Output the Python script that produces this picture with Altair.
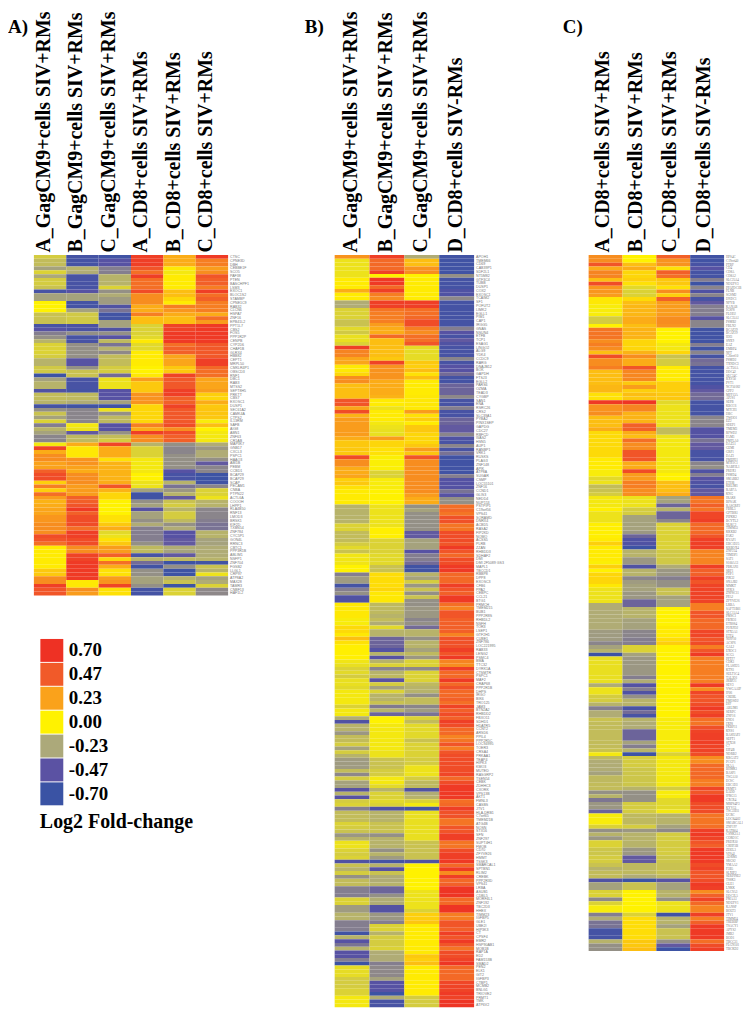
import json
import altair as alt
import pandas as pd

def expand(runs):
    out = []
    for item in runs:
        if isinstance(item, tuple):
            out += [item[0]] * item[1]
        else:
            out.append(item)
    return out

LEVELS = [0.70, 0.47, 0.23, 0.00, -0.23, -0.47, -0.70]
COLORS = ["#ee3124", "#f15a29", "#faa21b", "#fff200", "#aca97a", "#5b52a3", "#3a53a4"]

A_LABELS = ["A_GagCM9+cells SIV+RMs", "B_GagCM9+cells SIV+RMs", "C_GagCM9+cells SIV+RMs",
            "A_CD8+cells SIV+RMs", "B_CD8+cells SIV+RMs", "C_CD8+cells SIV+RMs"]
B_LABELS = ["A_GagCM9+cells SIV+RMs", "B_GagCM9+cells SIV+RMs", "C_GagCM9+cells SIV+RMs", "D_CD8+cells SIV-RMs"]
C_LABELS = ["A_CD8+cells SIV+RMs", "B_CD8+cells SIV+RMs", "C_CD8+cells SIV+RMs", "D_CD8+cells SIV-RMs"]

A_GENES = ["CTSC","CPNE3D","DBH","CEBBE1F","SCO5","PAF38","PTEN","BASCHPF1","LSM3","EXOC1","BLOC1S2","STAMBP","CPNE1C9","RAB32","CLCN6","HSPA7","ZNF16","EPB41L2","PPT1L7","CBS2","FOS5","PPP1R2P","CENPB","CYP2D6","CHAF1B","GLRX4","HBB82","CEPT1","MRPL50","CMKLR4P1","OBSCD3","RNF1","DBC1","RAB3","MTSS2","SEPT8H5","PRKTT","CBS7","EXOSC1","DUSP1","SEC61A2","CAMK4A","CTPS2","IL13RM","SAFB","AIG8","ABN1","ZNF63","CR1AB","MAP3K7","GNB17","CXCL3","PSPC1","HAAO3","ABI1B","PEBM","CCBD1","BCAP29","BCAP29","SCAP","PECAM1","CNBA","PTPN22","ACTL6A","COOOH","LHPP1","RLA4B50","RNF13","LMOD3","BRSK1","KIF2D","TXBN54","ZNF784","CYC5P1","GON4L","RRNC3","CBTC1","PPP3R1B","ABLIM1","NSFP1","ZNF704","FGSB2","LLGL1","CRP97","ATP8A2","MAX28","TAMR3","CNBF13","HAF1L2"]
B_GENES = ["APOH1","TMEM66","CD69","CAB39P1","SDF2L1","NT5M82","GTF3C4","TUBB","DUSP1","COX2","EXOSC1","TCAIM2","SF1","POFUT2","LIMK2","EGLL1","PIM1","CAP1","IRGG5","GNAS","NSUN4","ETFB","TCP1","ESAG1","LINGO2","ALG9","YDK4","CCDC9","RARG","DNAJB12","BOK","GAPDH","FTSJ3","EGLL2","PARS6","OZMA","TEAD3","CYGBP","SAN1","ENA","RSRC26","CRS2","SLC39A1","PYBA2","PINX1SEP","GAPDG","CDC27","RBFCD",
"WAS2","HSN5","AUP1","RANBP1","VRK1","RUSKS","PLAG3","ZNF148","APIK","ATP8A","SUGAR","CSMP","LOC55101","ZNF16","CCND1","GLIS3","NEDD4","NUP153","PSTPIP1","C19orf56","VPS41","SORAMD","DNRX4","ACBD5","RASA2","FIP2KD","NOMO","ACSS5","PLRB","ZZAN","RHBDD3","SDHAF2","DMI","DMI 2F5089 GS3","MAPL1","TBCCD1","RBBP8","DPP8","EXOSC3","CFB6","PPA2","CEBPC","CCL21","BTG1","PRMCH","TMEM215","BUB1","PPP2R8S",
"RHBDL2","NSFH","TOR3","LSEP1","GTF2H1","CUBE1","ZNF786","LOC221995","RAB33","LENG2","PSMC4","BMA","TTC32","DYRK1A","CTSMTR","PSPC1","MAF2","CRAP68","PPP2R1B","DHPS","IRGO","BIK6","TRO125","JAM3","BTN2A2","RHBDD2","FBXO11","SDHD1","HDATR5","CCNT2","ARSD6","PPIL4","PPP2R5C","LOC94995","TOER3","CRSA4","PRKAA1","TEAP4","HIPK3","KMO3","MUTED","RASGRP2","TSEN54","CEBK","ZDHHC3","CXORK","VPS13B","AKT1","FMNL3",
"CASBS","JTV1","HLA-DRB1","C7orf65","TMEM21B","ATG4B","NOSN","STX16","SFN","ZNF297","SUPT4H1","FMOB","CD70","ZFYVE26","HMMT","TSSK3","SMARCAL1","SPTBN1","RLIM2","CREBK","PPP2R3D","VPS41","LRBA","ASUB1","CDBL5","MORF4L1","ZNF192","TBC2D3","HHEX","TIMM23","IGFBP5","GLE1","UBE2I","HIP3K3","CT","CPSF4","EMR2","HSP90AB1","MOB1B","RAP1A","ED2","FAM153B","SMAD2","PEN2","ELK1","GIT2","IGFBP3","CTBP1","MCMB2","BNLG1","TRIOVE2","PRMT1","TMK","ATP6V2"]
C_GENES = ["HPS4C","C19orf40","PTBF","CD4","CD8A","CD8A2","SLC25A4","NDUFV3","PPAPDC1B","FLNB","SGSM2","DNDC1","NFYB","KANAB","IGSF8","FLOD2","SLC35A1","PSMB2","FBLN2","BCAP29","BCAP29","IDI3","SNX9","EAZ","EMBP4","NFT","C20orf10","PSMD2","TXNDC3","ACTL6A","DDC42","SEC24C","RXV50","PVT1","NCF50182","GPP2","MFF13A","AP2S1","SEPB","KBCC6","MTCH1","DBC","TWOO1","EZ2","SDEP1","TMEM3","RFWD2","FAM3","PMFLA0","DAZ51","GEMI","GRP1","DAZ1","PMEPE1","MTP2C1","NABP2L1","PRDX1","PSMD4","SMARB2","ETOB","KBLIM1",
"RAB7A","KNG","IRAK8","BPSAK","RASGRP2","FBRL5","GPTBR1","PIPKK2","BCYTL2","NLKC2","TIMM33","KKKB2","PAK2","KVAP1","EBC1D25","KRBOX4","ZNF224","TIMDP1","SAT1","S100A13","PBKAN1","SBF1","FOP1","PIK32","SNAJB2","MMKT","SYKS","ZNF8C11","PPA2","ZFYVE26","LRBA","SAFT1B01","SLC15A4","PMSC1","FBXO3","ETRSS4","FOXPD2","STX5A1","ETF4","NIPP10","ACSF6","GAL2","EXOC1","SCG5","PPTF7","CDK1","FLASH25","KTN1","SULT1C4","TAL3O1","JRBP21","SEV3","VWGAAIP","IF06","CREBL","FMOSD2","DIF","ABLIM1","SERPC","ZNF16","ENO1",
"IXP8","FKBP11","KNS1","BASHAP2","SEPT1","STX38","C7","EIF4B","NDRB2","KRGAT2","PCGF1","IKAA","BHMK1","BASP1","TSGA10","ECSC","EBC1D3","PRMT1","EADD","IFRG15","CXCR4","MRPS4P3","KYV13","TSC22D3","UCRC","LOC84402","SMARCAL1","ZNF197","KATB04","CSNK2A1","CORO1C","PRDX10","CRHF3B","ZDEL3","VPS41","ADRM1","SRGS2","YMAA2","F3B5","SLXIP2","SERPINE2","TSSK3","GLE1","LNKK","SLC9A3","DDC2L5","PMAA1","NDUFV1","KANSP","BOLT3","JTV1","TIMM24","TREBBP","TSACY1","APYS2","JMB2","BOD1","TBCC31","FLGN101","TBCKD2"]

A1 = [-.12,(-.17,2),-.25,-.1,-.23,(-.12,2),-.15,-.6,(-.25,2),(0,3),(-.15,3),-.6,-.5,-.35,-.3,-.2,(-.1,3),-.12,(-.2,2),(-.13,2),-.68,-.25,(-.2,2),-.55,(-.17,2),-.2,-.62,-.3,-.15,-.25,-.1,
      -.35,-.2,-.25,(-.33,2),-.03,.6,.2,(.3,2),(.23,2),.45,(.55,2),.1,.35,.1,.4,.25,.18,.2,(.22,2),(.27,2),(.3,2),.3,.55,.5,.4,(.02,6),(.12,2),(.3,2),.62,(.5,2)]
A2 = [(-.62,3),-.2,-.22,(-.6,4),-.5,(-.25,2),(-.62,2),-.25,(-.13,3),(-.58,2),-.3,(-.6,2),(-.3,4),(-.5,2),-.3,(-.15,2),(-.6,3),-.62,(-.18,2),-.22,-.65,(-.33,4),
      -.03,-.05,-.45,(-.18,2),.2,(.03,3),(.28,2),.23,.2,(.3,3),(.25,2),.25,(.45,2),.5,.65,.45,(.55,3),.4,(.62,2),(.55,2),(.3,2),(.6,2),(.65,5),(.03,2),.3,.25]
A3 = [-.65,(-.5,2),(-.35,2),(-.2,3),-.1,-.3,-.22,(-.27,2),-.55,-.38,(-.65,2),-.25,-.25,-.55,-.3,-.5,-.18,-.38,-.2,-.32,(-.17,3),(-.12,2),-.4,(-.05,3),(-.5,3),-.25,-.65,-.05,-.3,(-.18,2),
      (-.5,2),-.3,-.17,-.12,.58,(.2,3),.05,(.18,5),.2,.5,.18,(.08,2),(0,4),(.05,2),.12,.2,-.08,-.05,.05,.12,(.25,2),.45,.08,.4,.2,(.05,2),.25,.28,.6,(.05,2)]
A4 = [(.62,3),.5,.4,.62,(.4,3),.55,(.3,3),(.2,2),.35,(.15,2),(-.1,3),-.08,.03,(-.08,2),(.02,4),(0,2),.03,.25,(.12,2),.12,(.28,3),(.08,5),
      .35,.2,.62,(.3,2),-.2,(-.1,3),(-.03,4),(0,2),(-.05,2),-.25,(-.65,2),-.3,-.25,-.5,(-.25,2),-.3,-.22,(-.35,4),-.3,(-.18,2),-.6,-.2,-.4,-.65,(-.3,2),(-.25,2),-.3,(-.62,2)]
A5 = [(.2,3),.03,-.03,(.02,4),(.15,2),.08,.02,.35,.27,.2,(.15,2),(.6,2),(.65,3),.4,(.45,2),(.22,3),(.12,2),.6,(.48,3),(.62,2),(.45,2),.6,(.48,4),
      .55,.3,.55,(.45,2),-.3,(-.33,2),-.3,(-.3,3),-.5,(-.6,2),-.2,-.38,-.28,-.2,-.45,-.15,-.12,-.2,(-.12,2),-.18,-.3,-.22,(-.5,2),(-.45,2),-.22,-.25,-.45,-.18,-.68,-.3,(-.68,2),-.2,-.15,-.68,(-.1,2)]
A6 = [.65,(.35,2),.25,.3,.5,(.45,2),.35,.62,.4,.45,(.35,2),.35,.2,.4,.25,(.65,5),(.48,4),(.62,2),.42,(.4,2),(.22,3),.25,.1,.08,.2,.12,(.13,2),.12,-.02,
      .15,0,(-.03,3),-.22,-.28,(-.22,2),-.3,-.45,(-.33,2),(-.68,2),-.65,-.33,(-.1,2),-.05,(-.2,2),(-.33,3),-.35,(-.38,2),(-.2,2),(-.25,2),(-.22,3),-.2,-.65,-.15,-.2,-.05,-.25,-.22,-.1,(-.32,2)]

B1 = [.28,(-.05,5),(.02,3),.2,(.02,2),(-.22,2),(-.1,3),(-.15,2),-.08,-.13,(-.06,2),-.1,.62,(.33,2),(.22,2),(.03,2),.08,(.3,2),(.15,4),(.5,2),.22,.55,.18,(.25,5),
      .2,(.12,4),.55,(.3,2),(.2,2),.22,.1,.12,.05,(.02,4),(-.2,5),(-.1,2),(-.17,3),-.12,-.08,-.15,(-.04,3),(0,2),-.35,(-.27,2),-.62,-.35,-.3,(-.55,2),(.03,4),
      (-.02,2),(.07,2),.03,.15,.05,(.01,3),.01,-.04,-.06,-.1,-.08,-.12,(-.06,2),-.08,(-.03,4),-.1,(-.03,2),-.22,-.55,(-.2,2),-.28,(-.17,2),-.12,-.25,-.12,-.2,(-.27,3),-.17,-.32,-.12,(-.25,2),-.5,-.2,-.5,-.12,
      -.1,-.35,(-.17,3),-.1,-.12,-.15,-.28,-.2,(-.05,2),-.1,-.12,-.1,-.55,-.15,-.2,-.12,-.3,(-.17,2),(-.35,3),(-.1,2),(-.27,2),(-.2,2),(-.35,3),-.65,-.2,-.5,-.38,-.2,-.5,-.5,-.35,-.68,(-.07,3),(-.12,3),(-.1,2),(-.03,3)]
B2 = [.62,(.42,3),.6,0,(.65,2),.42,.62,.35,.3,(.62,2),.38,(.35,3),.25,.2,.2,.42,(.15,2),(.15,3),.12,.6,(.28,4),.2,(.2,3),.18,(.02,2),-.05,(.02,3),-.03,-.05,(-.06,2),
      .25,(.08,2),(.05,2),(-.01,4),(-.1,2),(-.02,3),(0,4),(-.05,6),(.01,3),(-.1,4),(-.08,3),(-.15,2),(.06,4),.08,(.03,3),(-.18,3),-.2,
      -.17,-.22,-.08,(-.2,2),(-.42,3),-.52,-.2,-.5,-.2,-.1,-.33,-.2,-.18,-.48,-.12,-.25,-.1,(-.2,2),-.15,-.36,-.2,-.42,(0,2),(-.03,7),(-.05,2),(-.15,3),(-.12,2),(-.03,2),-.08,-.2,(-.1,2),-.08,
      -.1,-.55,(-.2,3),(-.15,3),-.3,(-.2,3),-.3,-.2,-.27,-.62,-.2,-.5,-.15,(-.22,2),-.2,(-.42,2),-.3,(-.22,2),(-.52,2),(-.28,2),-.35,(-.1,2),-.2,(-.12,3),-.1,(-.22,3),-.35,(-.32,3),-.25,(-.5,3),-.68,-.22,(-.6,2)]
B3 = [-.22,(.15,2),.28,.3,0,(.02,6),(.62,2),(.4,2),.42,(.55,2),.35,.3,(.4,2),.5,(-.07,4),.12,.1,.15,.05,.15,(.02,4),(.03,4),.25,.05,.1,.02,.12,
      .12,(.08,3),.12,.25,.13,.5,(.3,3),.3,.3,(.3,4),.25,(.2,2),-.3,-.25,(-.3,4),-.3,(-.45,2),(-.25,3),-.5,(-.35,2),-.4,(-.65,2),-.2,-.25,-.12,-.28,-.15,-.3,-.15,(-.3,2),(-.28,3),
      -.33,-.3,-.4,(-.2,2),-.3,(-.2,2),-.25,-.18,-.28,(-.1,2),-.32,(-.1,3),-.18,(-.2,2),-.3,(-.17,2),-.33,-.27,-.38,-.1,-.17,(-.08,3),-.08,-.15,-.1,(-.1,3),(-.12,2),(-.05,3),-.12,(-.18,2),-.55,-.22,-.2,-.1,
      -.03,-.62,(-.06,8),(-.15,5),-.55,(0,7),(-.05,5),-.1,(.1,2),.13,(.02,7),.03,.12,.1,.15,(.02,8),(-.12,3)]
B4 = [(-.65,5),-.3,(-.62,3),(-.55,2),-.32,(-.62,7),-.35,-.5,-.6,-.45,-.55,(-.6,3),-.33,-.6,(-.5,2),-.4,(-.62,2),(-.42,3),-.32,(-.6,2),-.35,(-.6,2),(-.42,2),-.45,-.45,-.33,
      -.55,-.6,-.33,-.6,-.38,(-.65,5),-.35,(-.52,3),-.38,-.5,(-.3,2),.4,.42,.38,(.52,2),(.38,2),(.55,3),.5,.65,.5,.42,(.55,2),(.65,2),(.42,3),.62,.5,.45,(.65,2),.4,.33,(.5,2),
      (.45,4),.33,(.52,3),.62,.5,.65,.33,.3,.62,.42,.42,.65,.42,.52,(.42,2),.45,.4,.6,.45,.55,.45,.62,.55,(.42,2),.33,.38,.5,.35,.5,(.55,5),.58,.42,.55,(.65,4),.4,
      .42,.62,(.52,2),(.38,2),(.5,2),(.62,2),(.38,2),.55,(.62,2),.65,.42,.65,.3,.62,.42,.45,(.68,3),(.42,2),(.68,2),(.35,2),.5,.5,.45,.62,.5,.65,.5,.38,(.55,2),.6,.68,(.42,4),.58,(.6,2),.65,.6,(.68,2)]

C1 = [(.3,2),.5,.2,(.33,2),.15,.55,(.27,2),.25,(.03,2),(-.02,3),(-.12,2),0,.38,.38,.38,.3,.35,.3,.15,.55,(.3,2),.35,(.15,4),(.17,2),(.05,2),.65,(.28,2),.3,(.15,3),.2,(.07,7),(.02,3),(-.02,2),-.08,-.05,-.17,
      -.15,-.12,(-.03,3),.01,(-.05,3),(.01,4),.02,.1,(.02,4),-.01,.1,0,(.08,3),.03,(-.05,4),(-.22,7),(-.27,3),-.33,-.25,-.2,-.68,(-.06,7),-.22,(-.05,2),(-.12,2),-.2,-.35,(-.22,2),
      -.15,(-.17,7),-.15,-.03,-.18,(-.22,3),-.25,(-.18,2),(-.17,2),-.3,-.2,-.37,(-.28,2),-.42,(-.02,3),-.1,-.3,-.2,-.28,(-.1,2),(-.14,2),(-.12,2),-.15,-.2,(-.17,2),-.55,(-.25,2),(-.1,2),-.32,-.1,(-.02,2),-.35,-.22,(-.38,2),(-.62,3),-.2,(-.3,2)]
C2 = [(0,2),.15,.2,(.08,2),.1,.05,-.08,(-.1,2),.07,.15,(.17,3),(.2,2),.15,(.18,3),(.08,3),.18,.3,(.2,2),.5,(.32,3),.12,.25,.1,.15,.12,.68,(.33,2),(.18,3),(.45,2),.2,.15,.4,(.3,2),(.5,3),(.2,2),.55,(.25,2),(.35,2),
      .3,.3,(-.05,3),(-.12,2),(-.25,4),-.28,-.42,(-.55,2),-.68,(-.2,2),(-.28,2),-.55,(-.2,2),-.33,-.27,(-.25,2),(-.28,2),(-.42,2),(-.2,3),(-.25,3),(-.33,2),(-.35,2),(-.1,2),-.25,(-.28,5),-.35,-.22,-.52,-.35,-.55,-.3,(-.2,2),-.6,-.4,-.6,
      -.2,(-.22,2),(-.42,3),-.25,-.35,-.2,-.68,(-.12,3),(-.14,5),-.2,(-.3,3),(-.12,3),(-.18,3),-.12,-.28,(-.2,4),(-.28,2),(-.45,2),(-.18,3),-.22,-.68,(-.15,2),(0,6),-.1,(.06,6),(.12,2),.15]
C3 = [.45,(.28,2),.05,.45,.4,(.12,2),.05,.3,.1,.45,(.25,4),(.3,2),.28,(0,4),(-.03,2),.08,-.15,(-.12,2),(.02,4),(.1,3),(.12,2),-.08,(-.05,6),(-.17,2),-.05,(-.03,9),(0,2),(.15,2),
      .15,.2,(-.25,2),-.42,-.2,(-.42,2),-.33,(-.1,7),(-.13,4),-.22,(-.28,2),-.35,(-.3,2),(-.15,2),(-.25,3),(0,5),(.02,3),.06,.1,(0,19),
      (-.02,9),-.1,(-.03,8),-.12,(-.02,2),(-.08,3),-.03,(-.2,3),-.25,-.32,(-.12,6),(-.14,2),(-.15,3),-.18,-.5,(-.25,2),(-.2,2),-.3,(-.05,3),-.65,(-.2,2),-.25,(-.15,3),-.3,-.45,-.68]
C4 = [(-.65,2),-.6,-.5,(-.62,2),-.35,-.68,-.33,-.55,-.33,-.6,-.45,(-.35,3),-.5,-.33,-.33,(-.65,4),-.35,-.65,-.33,-.62,-.4,-.38,(-.62,5),-.55,-.45,(-.4,2),(-.62,4),(-.33,3),(-.52,3),-.38,(-.45,2),(-.6,3),-.33,-.3,-.55,-.35,-.5,-.55,
      -.6,(-.45,2),(.38,2),.45,.38,(.58,2),.62,(.42,3),.5,(.62,3),(.33,4),.62,(.45,2),.62,.5,(.6,5),(.35,2),(.5,2),(.42,3),(.58,2),.5,.55,.35,.5,.65,(.35,7),.65,.3,.58,(.5,2),.55,.65,.55,.62,.4,
      .38,.52,.6,(.62,3),.6,.6,.55,(.3,2),(.42,4),(.35,2),.58,.5,(.65,2),(.55,3),(.38,3),.4,.62,.65,.6,.5,.45,(.65,4),.55,.6,(.5,2),.55,.65,.62,.3,.45,.6,.42,(.33,2),.62,.35,.45,(.65,4),.4,.55,.62]

A_COLS, B_COLS, C_COLS = [A1, A2, A3, A4, A5, A6], [B1, B2, B3, B4], [C1, C2, C3, C4]

def table(cols, labels):
    rows = []
    for lab, col in zip(labels, cols):
        for i, v in enumerate(expand(col)):
            rows.append({"col": lab, "row": i, "v": v})
    return pd.DataFrame(rows)

lens = {n: [len(expand(c)) for c in cs] for n, cs in (("A", A_COLS), ("B", B_COLS), ("C", C_COLS))}
assert all(set(v) == {r} for v, r in zip(lens.values(), (89, 199, 182))), str(lens)

SERIF = "Liberation Serif"

def panel(cols, labels, genes, width, rng, letter, lx, ly, legend, label_shift, row_h, gene_font, gene_size):
    n = len(expand(cols[0]))
    height = n * row_h
    heat = alt.Chart(table(cols, labels)).mark_rect(strokeWidth=0).encode(
        x=alt.X("col:N", sort=labels, title=None,
                scale=alt.Scale(range=rng, paddingInner=0, paddingOuter=0),
                axis=alt.Axis(orient="top", labelAngle=270, labelAlign="left", labelBaseline="alphabetic",
                              labelFont=SERIF, labelFontWeight="bold", labelFontSize=20, labelColor="#000",
                              labelPadding=3, labelLimit=300, labelOffset=label_shift, domain=False, ticks=False)),
        y=alt.Y("row:O", title=None, scale=alt.Scale(paddingInner=0, paddingOuter=0),
                axis=alt.Axis(orient="right", domain=False, ticks=False, labelPadding=1.5,
                              labelFont=gene_font, labelFontSize=gene_size, labelColor="#777",
                              labelLimit=100, labelOverlap=False,
                              labelExpr=json.dumps(genes) + "[datum.value]")),
        color=alt.Color("v:Q", legend=legend,
                        scale=alt.Scale(domain=LEVELS[::-1], range=COLORS[::-1], interpolate="rgb", clamp=True)),
    )
    mark = alt.Chart(pd.DataFrame({"t": [letter]})).mark_text(
        font=SERIF, fontWeight="bold", fontSize=19, align="left", baseline="alphabetic", color="#000"
    ).encode(x=alt.value(lx), y=alt.value(ly), text="t:N")
    return alt.layer(heat, mark).properties(width=width, height=height)

legend = alt.Legend(type="symbol", values=LEVELS, symbolType="square", symbolSize=530,
                    labelExpr="replace(format(datum.value, '.2f'), '\u2212', '-')",
                    symbolStrokeWidth=0, symbolOpacity=1, labelFont=SERIF, labelFontWeight="bold",
                    labelFontSize=19, labelColor="#000", rowPadding=0, labelOffset=5,
                    title="Log2 Fold-change", titleOrient="bottom", titleFont=SERIF, titleFontWeight="bold",
                    titleFontSize=20, titleColor="#000", titlePadding=6, titleLimit=300,
                    orient="none", legendX=6, legendY=385)

chart = alt.hconcat(
    panel(A_COLS, A_LABELS, A_GENES, 195, [0, 195], "A)", -26, -223, legend, 0, 3.84, "Liberation Sans", 3.6),
    panel(B_COLS, B_LABELS, B_GENES, 140, [0, 140], "B)", -30, -223, None, 5, 3.795, "Liberation Sans", 3.6),
    panel(C_COLS, C_LABELS, C_GENES, 144, [8, 144], "C)", -18, -223, None, 3, 3.84, "Liberation Sans Narrow", 3.2),
).properties(spacing=107, bounds="flush", padding=0).resolve_scale(color="shared", x="independent", y="independent").configure_view(stroke=None)

chart.save("out.html", embed_options={"renderer": "svg", "actions": False})
